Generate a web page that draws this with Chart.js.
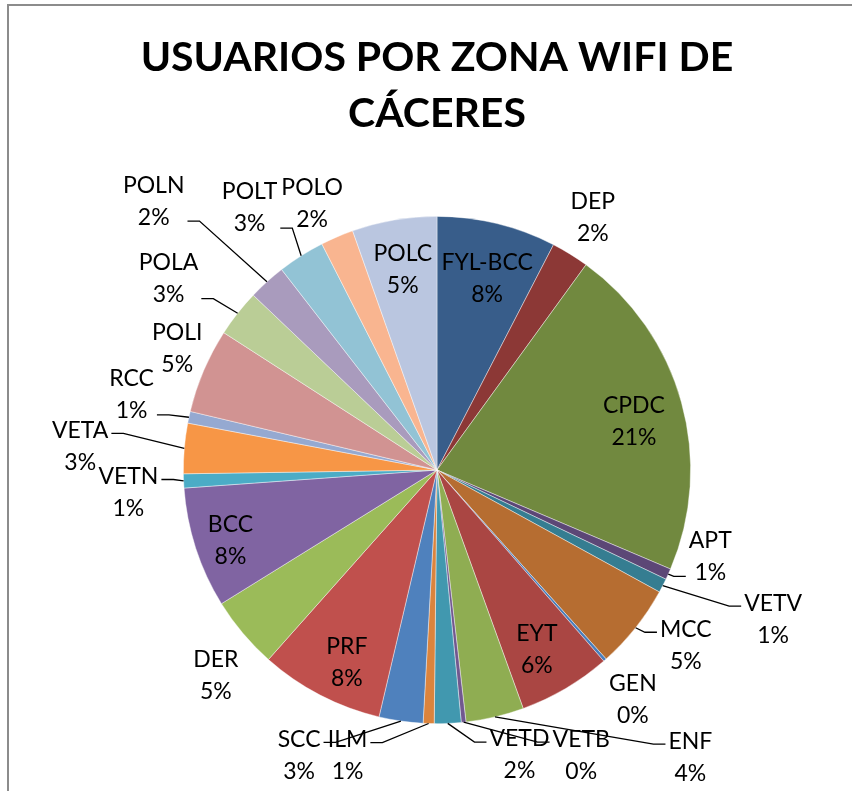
<!DOCTYPE html>
<html><head><meta charset="utf-8">
<script src="https://cdn.jsdelivr.net/npm/chart.js@4.4.0/dist/chart.umd.min.js"></script>
<style>
html,body{margin:0;padding:0;background:#fff;overflow:hidden}
#frame{position:absolute;left:7px;top:4px;width:900px;height:900px;border-left:2px solid #8c8c8c;border-top:2px solid #8c8c8c}
#wrap{position:absolute;left:0;top:0;width:852px;height:791px}
</style></head><body>
<div id="frame"></div>
<div id="wrap"><canvas id="c" width="852" height="791"></canvas></div>
<script>
const titleLines = ['USUARIOS POR ZONA WIFI DE', 'CÁCERES'];
const categories = ['FYL-BCC','DEP','CPDC','APT','VETV','MCC','GEN','EYT','ENF','VETB','VETD','ILM','SCC','PRF','DER','BCC','VETN','VETA','RCC','POLI','POLA','POLN','POLT','POLO','POLC'];
const shares = [7.6,2.4,21.4,0.7,0.9,5.4,0.2,5.9,3.7,0.3,1.7,0.7,2.8,7.9,4.6,7.7,0.9,3.2,0.75,5.4,3.0,2.4,3.0,2.1,5.4];
const colors = ['#385D8A','#8C3836','#71893F','#5C4776','#357D91','#B66D31','#4A7EBB','#AA4643','#8FAD52','#71588F','#4198AF','#DB843D','#4F81BD','#C0504D','#9BBB59','#8064A2','#4BACC6','#F79646','#95A9D1','#D19392','#BACD96','#A99BBD','#92C3D5','#F9B590','#BAC6E0'];
// label placement relative to each slice: [radius factor, angle shift (deg, clockwise), leader line]
const labelPlace = [
 [0.78,1,false],[1.17,0,false],[0.80,1.6,false],[1.13,-6.7,true],[1.45,-3.2,true],[1.20,-3.3,true],
 [1.19,1,false],[0.81,1.4,false],[1.51,-28.2,true],[1.26,-20.8,true],[1.17,-13.7,true],[1.18,15.5,true],
 [1.25,17.6,true],[0.84,-2.4,false],[1.19,-2.8,false],[0.86,-0.8,false],[1.22,-1.7,true],[1.41,-1.1,true],
 [1.24,1.8,true],[1.13,1.9,false],[1.30,-2.7,true],[1.54,-4.4,true],[1.27,-3.2,true],[1.16,-1.9,false],[0.80,0,false]
];
const LABEL_FONT = '23px Lato';
const LINE_H = 32;

const labelPlugin = {
  id: 'labels',
  afterDatasetsDraw(chart) {
    const ctx = chart.ctx;
    const meta = chart.getDatasetMeta(0);
    const total = shares.reduce((a, b) => a + b, 0);
    ctx.save();
    ctx.font = LABEL_FONT;
    ctx.fillStyle = '#000';
    ctx.textAlign = 'center';
    ctx.textBaseline = 'middle';
    meta.data.forEach((arc, i) => {
      const p = arc.getProps(['x','y','startAngle','endAngle','outerRadius'], true);
      const mid = (p.startAngle + p.endAngle) / 2;
      const [f, dDeg, leader] = labelPlace[i];
      const a = mid + dDeg * Math.PI / 180;
      const lx = p.x + Math.cos(a) * p.outerRadius * f;
      const ly = p.y + Math.sin(a) * p.outerRadius * f;
      const lines = [categories[i], Math.round(shares[i] / total * 100) + '%'];
      const y1 = ly - LINE_H / 2, y2 = ly + LINE_H / 2;
      ctx.fillText(lines[0], lx, y1);
      ctx.fillText(lines[1], lx, y2);
      if (leader) {
        const w = Math.max(ctx.measureText(lines[0]).width, ctx.measureText(lines[1]).width);
        const sx = p.x + Math.cos(mid) * p.outerRadius;
        const sy = p.y + Math.sin(mid) * p.outerRadius;
        const leftSide = lx > p.x;
        const ex = leftSide ? lx - w / 2 - 3 : lx + w / 2 + 3;
        const ey = sy > y2 ? y2 + 4 : y1 + 3;
        const kx = leftSide ? ex - 12 : ex + 12;
        ctx.beginPath();
        ctx.moveTo(sx, sy);
        ctx.lineTo(kx, ey);
        ctx.lineTo(ex, ey);
        ctx.strokeStyle = '#000';
        ctx.lineWidth = 1.3;
        ctx.stroke();
      }
    });
    // title
    ctx.textBaseline = 'alphabetic';
    ctx.font = 'bold 100px Lato';
    const tw = ctx.measureText(titleLines[0]).width;
    const size = 100 * 592 / tw;
    ctx.font = 'bold ' + size.toFixed(1) + 'px Lato';
    ctx.fillText(titleLines[0], 437, 71);
    ctx.fillText(titleLines[1], 437, 127);
    ctx.restore();
  }
};

new Chart(document.getElementById('c'), {
  type: 'pie',
  data: {
    labels: categories,
    datasets: [{
      data: shares,
      backgroundColor: colors,
      borderColor: 'rgba(255,255,255,0.55)',
      borderWidth: 0.75
    }]
  },
  options: {
    responsive: false,
    animation: false,
    layout: { padding: { left: 183, top: 216, right: 161, bottom: 67 } },
    plugins: { legend: { display: false }, tooltip: { enabled: false }, title: { display: false } }
  },
  plugins: [labelPlugin]
});
</script>
</body></html>
